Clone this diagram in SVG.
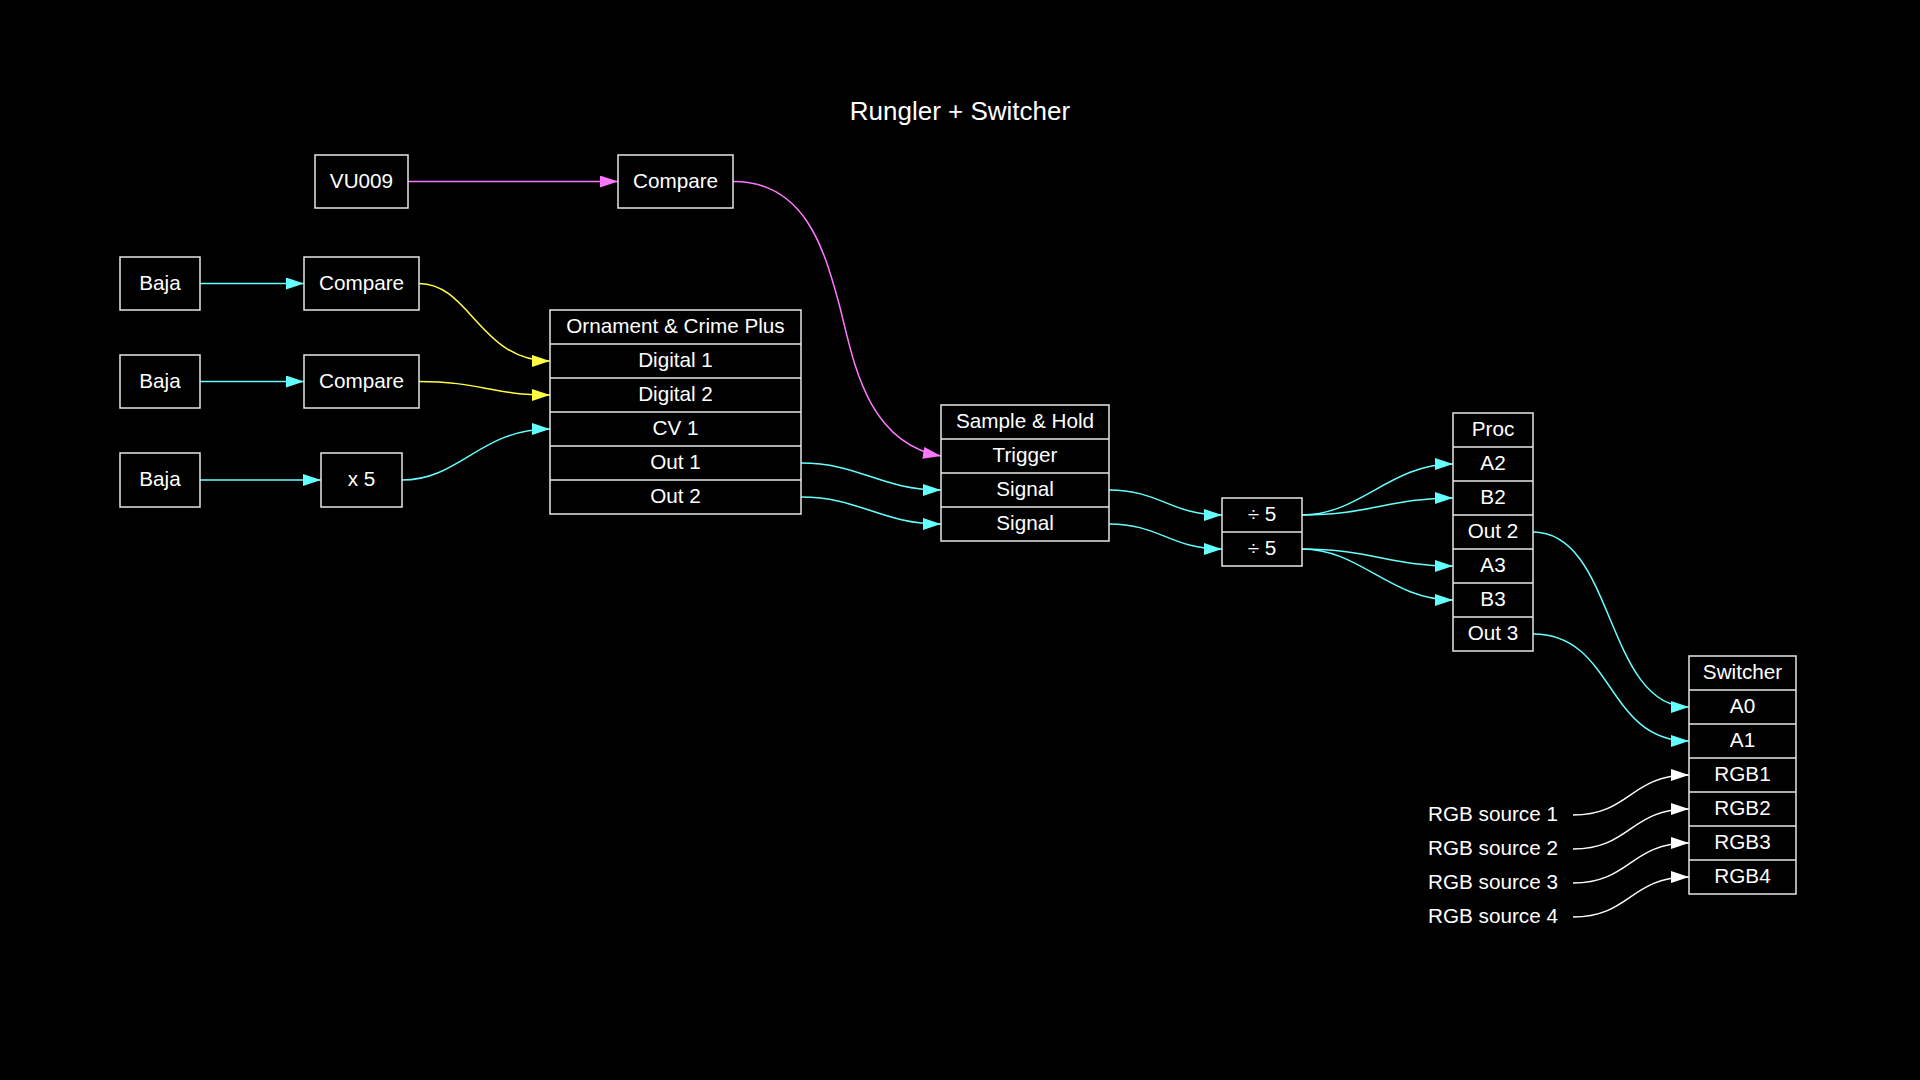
<svg xmlns="http://www.w3.org/2000/svg" width="1920" height="1080" viewBox="0 0 1920 1080">
<style>
.bg{fill:#000}
.box{fill:#000;stroke:#e6e6e6;stroke-width:1.5}
.sep{stroke:#e6e6e6;stroke-width:1.5}
text{font-family:"Liberation Sans",Arial,sans-serif;font-size:20.7px;fill:#fff;text-anchor:middle}
.title{font-size:26px}
.e{fill:none;stroke-width:1.5}
.c{stroke:#66ffff}
.m{stroke:#ff77ff}
.y{stroke:#ffff44}
.w{stroke:#ffffff}
</style>
<defs>
<marker id="ac" markerUnits="userSpaceOnUse" markerWidth="19" markerHeight="13" refX="18" refY="6" orient="auto"><path d="M0,0 L18,6 L0,12 z" fill="#66ffff"/></marker>
<marker id="am" markerUnits="userSpaceOnUse" markerWidth="19" markerHeight="13" refX="18" refY="6" orient="auto"><path d="M0,0 L18,6 L0,12 z" fill="#ff77ff"/></marker>
<marker id="ay" markerUnits="userSpaceOnUse" markerWidth="19" markerHeight="13" refX="18" refY="6" orient="auto"><path d="M0,0 L18,6 L0,12 z" fill="#ffff44"/></marker>
<marker id="aw" markerUnits="userSpaceOnUse" markerWidth="19" markerHeight="13" refX="18" refY="6" orient="auto"><path d="M0,0 L18,6 L0,12 z" fill="#ffffff"/></marker>
</defs>
<rect class="bg" x="0" y="0" width="1920" height="1080"/>
<text class="title" x="960" y="120">Rungler + Switcher</text>

<g id="connectors">
<path class="e m" marker-end="url(#am)" d="M408,181.5 L618,181.5"/>
<path class="e m" marker-end="url(#am)" d="M733,181.5 C805,181 824,250 838,300 C852,350 862,442 941,456"/>
<path class="e c" marker-end="url(#ac)" d="M200,283.5 L304,283.5"/>
<path class="e c" marker-end="url(#ac)" d="M200,381.5 L304,381.5"/>
<path class="e c" marker-end="url(#ac)" d="M200,480 L321,480"/>
<path class="e y" marker-end="url(#ay)" d="M419,283.5 C470,283.5 480,361 550,361"/>
<path class="e y" marker-end="url(#ay)" d="M419,381.5 C480,381.5 490,395 550,395"/>
<path class="e c" marker-end="url(#ac)" d="M402,480 C460,480 480,429 550,429"/>
<path class="e c" marker-end="url(#ac)" d="M801,463 C860,463 880,490 941,490"/>
<path class="e c" marker-end="url(#ac)" d="M801,497 C860,497 880,524 941,524"/>
<path class="e c" marker-end="url(#ac)" d="M1109,490 C1160,490 1170,515 1222,515"/>
<path class="e c" marker-end="url(#ac)" d="M1109,524 C1160,524 1170,549 1222,549"/>
<path class="e c" marker-end="url(#ac)" d="M1302,515 C1360,515 1390,464 1453,464"/>
<path class="e c" marker-end="url(#ac)" d="M1302,515 C1370,515 1390,498 1453,498"/>
<path class="e c" marker-end="url(#ac)" d="M1302,549 C1370,549 1390,566 1453,566"/>
<path class="e c" marker-end="url(#ac)" d="M1302,549 C1360,549 1390,600 1453,600"/>
<path class="e c" marker-end="url(#ac)" d="M1533,532 C1615,532 1605,707 1689,707"/>
<path class="e c" marker-end="url(#ac)" d="M1533,634 C1615,634 1605,741 1689,741"/>
<path class="e w" marker-end="url(#aw)" d="M1573,815 C1630,815 1630,775 1689,775"/>
<path class="e w" marker-end="url(#aw)" d="M1573,849 C1630,849 1630,809 1689,809"/>
<path class="e w" marker-end="url(#aw)" d="M1573,883 C1630,883 1630,843 1689,843"/>
<path class="e w" marker-end="url(#aw)" d="M1573,917 C1630,917 1630,877 1689,877"/>
</g>

<g id="vu009"><rect class="box" x="315" y="155" width="93" height="53"/><text x="361.5" y="187.5">VU009</text></g>
<g id="compare0"><rect class="box" x="618" y="155" width="115" height="53"/><text x="675.5" y="187.5">Compare</text></g>
<g id="baja1"><rect class="box" x="120" y="257" width="80" height="53"/><text x="160" y="289.5">Baja</text></g>
<g id="compare1"><rect class="box" x="304" y="257" width="115" height="53"/><text x="361.5" y="289.5">Compare</text></g>
<g id="baja2"><rect class="box" x="120" y="355" width="80" height="53"/><text x="160" y="387.5">Baja</text></g>
<g id="compare2"><rect class="box" x="304" y="355" width="115" height="53"/><text x="361.5" y="387.5">Compare</text></g>
<g id="baja3"><rect class="box" x="120" y="453" width="80" height="54"/><text x="160" y="486">Baja</text></g>
<g id="x5"><rect class="box" x="321" y="453" width="81" height="54"/><text x="361.5" y="486">x 5</text></g>

<g id="ornament">
<rect class="box" x="550" y="310" width="251" height="204"/>
<path class="sep" d="M550,344H801M550,378H801M550,412H801M550,446H801M550,480H801"/>
<text x="675.5" y="333">Ornament &amp; Crime Plus</text>
<text x="675.5" y="367">Digital 1</text>
<text x="675.5" y="401">Digital 2</text>
<text x="675.5" y="435">CV 1</text>
<text x="675.5" y="469">Out 1</text>
<text x="675.5" y="503">Out 2</text>
</g>

<g id="samplehold">
<rect class="box" x="941" y="405" width="168" height="136"/>
<path class="sep" d="M941,439H1109M941,473H1109M941,507H1109"/>
<text x="1025" y="428">Sample &amp; Hold</text>
<text x="1025" y="462">Trigger</text>
<text x="1025" y="496">Signal</text>
<text x="1025" y="530">Signal</text>
</g>

<g id="div5">
<rect class="box" x="1222" y="498" width="80" height="68"/>
<path class="sep" d="M1222,532H1302"/>
<text x="1262" y="521">÷ 5</text>
<text x="1262" y="555">÷ 5</text>
</g>

<g id="proc">
<rect class="box" x="1453" y="413" width="80" height="238"/>
<path class="sep" d="M1453,447H1533M1453,481H1533M1453,515H1533M1453,549H1533M1453,583H1533M1453,617H1533"/>
<text x="1493" y="436">Proc</text>
<text x="1493" y="470">A2</text>
<text x="1493" y="504">B2</text>
<text x="1493" y="538">Out 2</text>
<text x="1493" y="572">A3</text>
<text x="1493" y="606">B3</text>
<text x="1493" y="640">Out 3</text>
</g>

<g id="switcher">
<rect class="box" x="1689" y="656" width="107" height="238"/>
<path class="sep" d="M1689,690H1796M1689,724H1796M1689,758H1796M1689,792H1796M1689,826H1796M1689,860H1796"/>
<text x="1742.5" y="679">Switcher</text>
<text x="1742.5" y="713">A0</text>
<text x="1742.5" y="747">A1</text>
<text x="1742.5" y="781">RGB1</text>
<text x="1742.5" y="815">RGB2</text>
<text x="1742.5" y="849">RGB3</text>
<text x="1742.5" y="883">RGB4</text>
</g>

<g id="rgbsrc1"><text x="1493" y="821">RGB source 1</text></g>
<g id="rgbsrc2"><text x="1493" y="855">RGB source 2</text></g>
<g id="rgbsrc3"><text x="1493" y="889">RGB source 3</text></g>
<g id="rgbsrc4"><text x="1493" y="923">RGB source 4</text></g>
</svg>
